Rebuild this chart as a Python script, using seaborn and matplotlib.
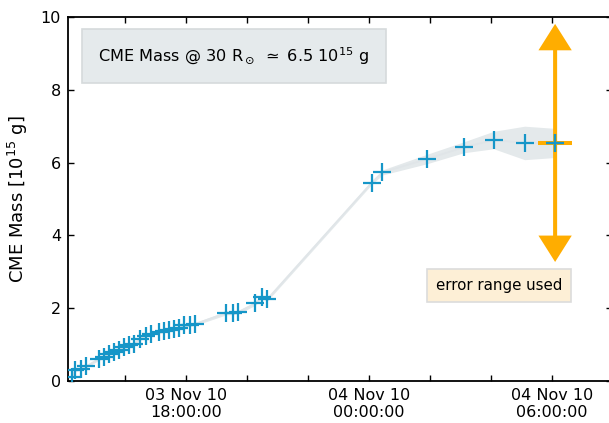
import matplotlib
matplotlib.use("Agg")
import matplotlib.pyplot as plt
import matplotlib.dates as mdates
import numpy as np
import pandas as pd
import seaborn as sns

# Observation times (UT) and derived CME mass [1e15 g]
times = [
    "2010-11-03 14:15", "2010-11-03 14:21", "2010-11-03 14:32", "2010-11-03 14:43",
    "2010-11-03 15:08", "2010-11-03 15:17", "2010-11-03 15:28", "2010-11-03 15:37",
    "2010-11-03 15:47", "2010-11-03 15:57", "2010-11-03 16:07", "2010-11-03 16:17",
    "2010-11-03 16:29", "2010-11-03 16:41", "2010-11-03 16:51", "2010-11-03 17:06",
    "2010-11-03 17:16", "2010-11-03 17:25", "2010-11-03 17:35", "2010-11-03 17:45",
    "2010-11-03 17:55", "2010-11-03 18:08", "2010-11-03 18:18",
    "2010-11-03 19:19", "2010-11-03 19:31", "2010-11-03 19:42",
    "2010-11-03 20:16", "2010-11-03 20:28", "2010-11-03 20:39",
    "2010-11-04 00:05", "2010-11-04 00:26", "2010-11-04 01:54", "2010-11-04 03:06",
    "2010-11-04 04:05", "2010-11-04 05:06", "2010-11-04 06:06",
]
mass = [
    0.12, 0.29, 0.34, 0.40,
    0.61, 0.65, 0.75, 0.79,
    0.86, 0.93, 0.98, 1.02,
    1.16, 1.25, 1.30, 1.34,
    1.37, 1.39, 1.44, 1.46,
    1.53, 1.55, 1.57,
    1.87, 1.87, 1.89,
    2.13, 2.32, 2.24,
    5.45, 5.73, 6.10, 6.42,
    6.62, 6.54, 6.54,
]
mass_err = [
    0.04, 0.04, 0.04, 0.04,
    0.04, 0.04, 0.04, 0.04,
    0.04, 0.04, 0.04, 0.04,
    0.04, 0.04, 0.04, 0.04,
    0.04, 0.04, 0.04, 0.04,
    0.04, 0.04, 0.04,
    0.05, 0.05, 0.05,
    0.05, 0.05, 0.05,
    0.05, 0.07, 0.13, 0.15,
    0.24, 0.46, 0.40,
]
mass_at_30rsun = 6.5
error_fraction = 0.5

df = pd.DataFrame({"time": pd.to_datetime(times), "mass": mass, "err": mass_err})
df["lo"] = df["mass"] - df["err"]
df["hi"] = df["mass"] + df["err"]

sns.set_style("ticks")
plt.rcParams["font.family"] = ["DejaVu Sans"]
plt.rcParams.update({"text.color": "black", "axes.labelcolor": "black",
                     "xtick.color": "black", "ytick.color": "black"})

fig = plt.figure(figsize=(6.09, 4.23), dpi=100)
ax = fig.add_axes([68 / 609, 42 / 423, 544 / 609, 364 / 423])

blue = "#1696c8"
orange = "#ffad00"
band = "#e4e9eb"

ax.fill_between(df["time"], df["lo"], df["hi"], color=band, lw=0, zorder=1)
sns.lineplot(data=df, x="time", y="mass", color="#e0e5e8", lw=1.3, ax=ax, zorder=2)
sns.scatterplot(data=df, x="time", y="mass", marker="+", s=160, color=blue,
                linewidth=1.6, ax=ax, zorder=4)

# error range applied to the final estimate
t_last = mdates.date2num(df["time"].iloc[-1])
m_last = df["mass"].iloc[-1]
span = error_fraction * m_last
arrow = dict(width=2.9, headwidth=24, headlength=19, shrink=0,
             facecolor=orange, edgecolor=orange, lw=0)
ax.annotate("", xy=(t_last, m_last + span), xytext=(t_last, m_last),
            arrowprops=arrow, zorder=3)
ax.annotate("", xy=(t_last, m_last - span), xytext=(t_last, m_last),
            arrowprops=arrow, zorder=3)
ax.plot([t_last], [m_last], marker="_", ms=24, mew=2.9, color=orange, zorder=3)
ax.plot([t_last], [m_last], marker="+", ms=12.5, mew=1.6, color=blue, ls="none", zorder=5)

ax.text(0.305, 0.892,
        r"CME Mass @ 30 R$_\odot$ $\simeq$ " + f"{mass_at_30rsun:.1f}" + r" 10$^{15}$ g",
        transform=ax.transAxes, ha="center", va="center", fontsize=11.6,
        bbox=dict(boxstyle="square,pad=1.02", fc="#e5eaec", ec="#d6dadc", lw=1.2))
ax.text(0.792, 0.262, "error range used", transform=ax.transAxes,
        ha="center", va="center", fontsize=10.8,
        bbox=dict(boxstyle="square,pad=0.6", fc="#fdefd6", ec="#dcdcdc", lw=1.2))

ax.set_xlim(pd.Timestamp("2010-11-03 14:07"), pd.Timestamp("2010-11-04 07:58"))
ax.set_ylim(0, 10)
ax.set_yticks([0, 2, 4, 6, 8, 10])
ax.xaxis.set_major_locator(mdates.HourLocator(byhour=[0, 6, 12, 18]))
ax.xaxis.set_minor_locator(mdates.HourLocator(byhour=range(0, 24, 2)))
ax.xaxis.set_major_formatter(mdates.DateFormatter("%d %b %y\n%H:%M:%S"))

ax.set_xlabel("")
ax.set_ylabel(r"CME Mass [10$^{15}$ g]", fontsize=13, labelpad=8)
ax.tick_params(which="both", direction="in", top=True, right=True,
               length=4, width=1, color="black", labelsize=11.5, pad=5)
for s in ax.spines.values():
    s.set_linewidth(1.3)
    s.set_color("black")

fig.savefig("out.png", dpi=100)
